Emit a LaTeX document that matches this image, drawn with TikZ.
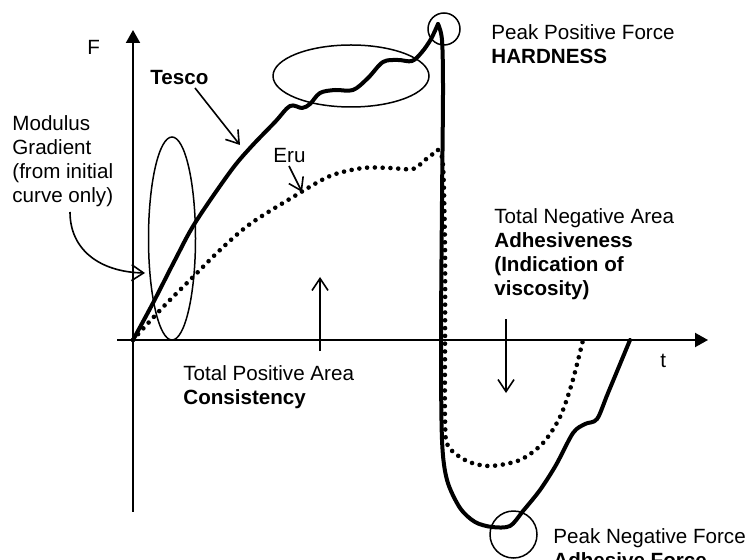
\documentclass[tikz,border=0pt]{standalone}
\usepackage{fontspec}
\setmainfont{Liberation Sans}
\usetikzlibrary{arrows.meta}
\begin{document}
\begin{tikzpicture}[x=0.5pt,y=-0.5pt,
  lbl/.style={anchor=base west,inner sep=0pt,font=\fontsize{10.3pt}{12pt}\selectfont},
  blbl/.style={lbl,font=\fontsize{10.3pt}{12pt}\selectfont\bfseries},
  axisline/.style={line width=1pt,-{Triangle[length=6.5pt,width=7pt]}},
  pointer/.style={line width=0.8pt,-{Straight Barb[length=6pt,width=8pt]}},
  ring/.style={line width=0.75pt},
  tescoline/.style={line width=2pt,line join=round,line cap=round},
  eruline/.style={line width=2.3pt,line cap=round,dash pattern=on 0pt off 3.9pt}]
\useasboundingbox (0,0) rectangle (747,560);

% axes
\coordinate (O) at (133,340);
\coordinate (ytop) at (133,30);
\coordinate (ybot) at (133,512);
\coordinate (xleft) at (117,340);
\coordinate (xright) at (708,340);
\draw[line width=1pt] (O) -- (ybot);
\draw[axisline] (O) -- (ytop);
\draw[line width=1pt] (O) -- (xleft);
\draw[axisline] (O) -- (xright);
\node[lbl] (F) at (87,55) {F};
\node[lbl] (t) at (660,367) {t};

% Tesco curve (solid, thick)
\draw[tescoline] plot[smooth,tension=0.55] coordinates {
 (133,340) (153,303) (175,260) (195,223) (230,172) (250,148) (275,122) (290,106)
 (302,108) (310,104) (320,93) (335,90) (353,90) (368,78) (383,62) (398,60)
 (412,61) (422,52) (431,39) (438,24)};
\draw[tescoline] plot[smooth,tension=0.5] coordinates {
 (438,24) (442,40) (443,90) (442,200) (441,340) (442,440) (447,480) (460,508)
 (475,522) (492,527) (510,526) (523,511) (540,490) (556,465) (573,433) (585,424)
 (597,419) (608,393) (630,340)};

% Eru curve (dotted)
\draw[eruline] plot[smooth,tension=0.5] coordinates {
 (133,340) (140,332) (165,305) (193,277) (220,250) (250,224) (293,197) (330,176)
 (363,168) (390,168) (413,169) (425,160) (438,150)};
\draw[eruline] plot[smooth,tension=0.5] coordinates {
 (438,150) (443,165) (445,250) (445,340) (445,420) (448,446) (467,461) (490,466)
 (520,460) (543,443) (560,417) (572,383) (583,340)};

% rings
\draw[ring] (172,238.5) ellipse [x radius=11.75pt, y radius=50.75pt];
\draw[ring] (351,76) ellipse [x radius=39pt, y radius=15.5pt];
\draw[ring] (444,29) circle [radius=8pt];
\draw[ring] (513.5,534.5) circle [radius=11.75pt];

% labels
\node[blbl] (tesco) at (150,85) {Tesco};
\coordinate (tescotip) at (240,145);
\draw[pointer] (195,88) -- (tescotip);

\node[lbl] (eru) at (273,163) {Eru};
\coordinate (erutip) at (302,192);
\draw[pointer] (289,166) -- (erutip);

\node[lbl] (mod1) at (12,131) {Modulus};
\node[lbl] (mod2) at (12,155) {Gradient};
\node[lbl] (mod3) at (12,179) {(from initial};
\node[lbl] (mod4) at (12,203) {curve only)};
\coordinate (modstart) at (70,212);
\coordinate (modtip) at (145,273);
\draw[pointer] (modstart) .. controls (70,250) and (100,272) .. (modtip);

\node[lbl] (ppf) at (491,40) {Peak Positive Force};
\node[blbl] (hard) at (491,64) {HARDNESS};

\node[lbl] (tpa) at (183,380) {Total Positive Area};
\node[blbl] (cons) at (183,404) {Consistency};
\coordinate (upbot) at (320,351);
\coordinate (uptop) at (320,277);
\draw[pointer] (upbot) -- (uptop);

\node[lbl] (tna) at (494,224) {Total Negative Area};
\node[blbl] (adh) at (494,248) {Adhesiveness};
\node[blbl] (ind) at (494,272) {(Indication of};
\node[blbl] (visc) at (494,296) {viscosity)};
\coordinate (dntop) at (506,319);
\coordinate (dnbot) at (506,393);
\draw[pointer] (dntop) -- (dnbot);

\node[lbl] (pnf) at (553,543) {Peak Negative Force};
\node[blbl] (adf) at (553,567) {Adhesive Force};
\end{tikzpicture}
\end{document}
